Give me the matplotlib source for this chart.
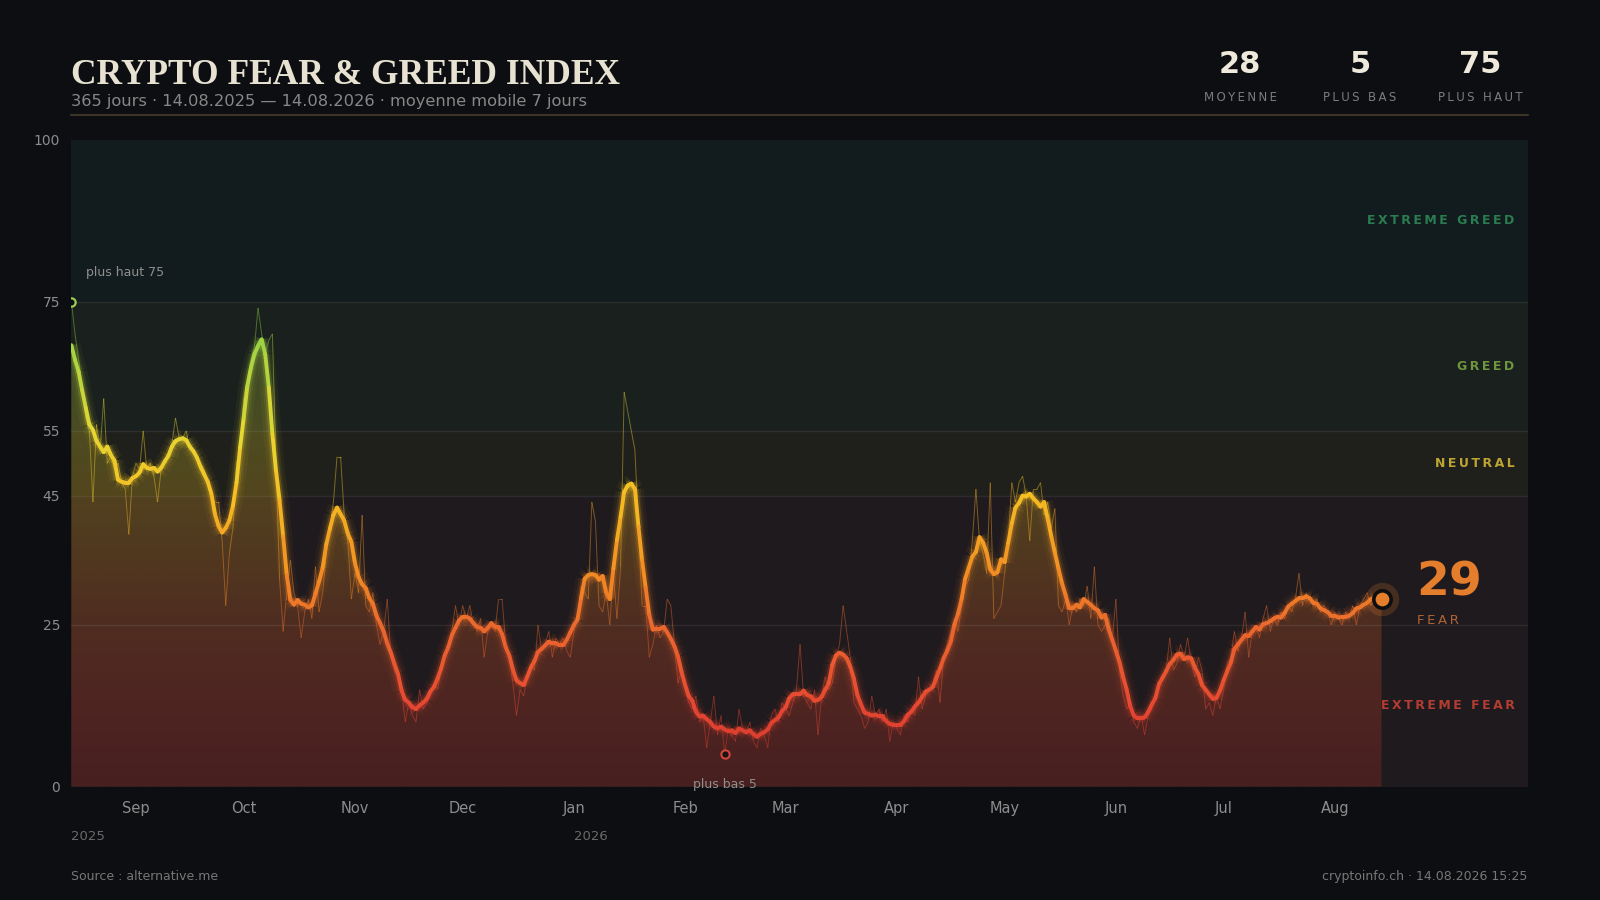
import numpy as np
import pandas as pd
import matplotlib
matplotlib.use("Agg")
import matplotlib.pyplot as plt
import matplotlib.dates as mdates
from matplotlib.collections import LineCollection
from matplotlib.colors import LinearSegmentedColormap, Normalize
from matplotlib.patches import PathPatch

# Daily Fear & Greed values (14.08.2025 -> 14.08.2026)
start_date = "2025-08-14"
fng_daily = [
    75, 70, 66, 62, 57, 55, 44, 56, 52, 60,
    50, 51, 49, 50, 47, 46, 39, 48, 50, 49,
    55, 49, 50, 48, 44, 49, 50, 51, 53, 57,
    54, 54, 55, 52, 52, 51, 50, 49, 47, 45,
    44, 44, 38, 28, 36, 40, 50, 52, 60, 63,
    66, 68, 74, 70, 67, 69, 70, 50, 32, 24,
    30, 35, 30, 28, 23, 27, 29, 26, 34, 27,
    30, 36, 40, 44, 51, 51, 42, 38, 29, 33,
    30, 42, 28, 27, 30, 25, 22, 24, 29, 20,
    18, 17, 15, 10, 13, 11, 10, 15, 12, 13,
    14, 16, 15, 18, 20, 21, 24, 28, 25, 28,
    26, 28, 25, 24, 26, 20, 24, 25, 24, 29,
    29, 22, 20, 16, 11, 15, 14, 17, 19, 18,
    25, 21, 22, 24, 20, 23, 22, 23, 21, 20,
    24, 26, 31, 30, 29, 44, 41, 28, 27, 30,
    25, 33, 26, 34, 61, 58, 55, 52, 40, 28,
    28, 20, 22, 25, 23, 24, 29, 28, 22, 16,
    18, 15, 13, 12, 14, 10, 11, 6, 10, 14,
    8, 11, 5, 9, 8, 7, 12, 9, 8, 10,
    7, 6, 9, 8, 6, 11, 12, 10, 13, 12,
    11, 13, 15, 22, 14, 13, 12, 15, 8, 14,
    17, 15, 16, 20, 22, 28, 24, 20, 13, 12,
    11, 9, 10, 14, 11, 12, 10, 12, 7, 10,
    9, 8, 11, 10, 12, 11, 17, 12, 14, 15,
    16, 18, 13, 20, 22, 24, 26, 24, 28, 31,
    32, 38, 46, 38, 36, 33, 47, 26, 27, 28,
    33, 38, 47, 44, 47, 48, 45, 38, 46, 46,
    47, 42, 44, 40, 43, 28, 27, 29, 25, 28,
    27, 29, 28, 31, 26, 34, 25, 24, 25, 26,
    23, 29, 18, 14, 12, 13, 10, 9, 11, 8,
    11, 12, 14, 16, 17, 18, 23, 18, 19, 22,
    20, 23, 19, 17, 20, 18, 12, 13, 11, 14,
    12, 15, 19, 20, 24, 21, 23, 27, 20, 24,
    25, 23, 26, 28, 24, 26, 25, 27, 26, 28,
    27, 29, 33, 28, 30, 29, 28, 29, 27, 28,
    27, 25, 27, 26, 25, 27, 26, 28, 25, 28,
    29, 30, 28, 29, 30, 29,
]

# zones
zone_names = ["EXTREME FEAR", "FEAR", "NEUTRAL", "GREED", "EXTREME GREED"]
zone_edges = [0, 25, 45, 55, 75, 100]
zone_bg = ["#1f1a1d", "#1e1a1e", "#1f201b", "#1a201d", "#121b1d"]
zone_label_colors = ["#b43c32", "#c0703a", "#bea532", "#6e963c", "#2a7d50"]
y_ticks = [0, 25, 45, 55, 75, 100]

BG = "#0d0e11"
W, H = 1600, 900


def fx(x):
    return x / W


def fy(y):
    return 1 - y / H


def track(s):
    # letter spacing with thin spaces
    return "\u2009".join(s)


dates = pd.date_range(start_date, periods=len(fng_daily), freq="D")
raw = pd.Series(fng_daily, index=dates, dtype=float)
ma7 = raw.rolling(7, center=True, min_periods=1).mean()

cmap = LinearSegmentedColormap.from_list("fng", [
    (0.00, "#c83228"), (0.12, "#e64632"), (0.25, "#eb692d"),
    (0.33, "#f28c23"), (0.45, "#f5be23"), (0.55, "#e6d732"),
    (0.70, "#96d246"), (0.85, "#3cb464"), (1.00, "#2a965a"),
])
norm = Normalize(0, 100)

fig = plt.figure(figsize=(16, 9), dpi=100)
fig.patch.set_facecolor(BG)
ax = fig.add_axes([fx(71.4), fy(786.7), fx(1527.6 - 71.4), (786.7 - 139.8) / H])
ax.set_facecolor(BG)

xn = mdates.date2num(dates)
x_end = xn[-1] + 40.7

# zone bands
for i in range(len(zone_names)):
    ax.axhspan(zone_edges[i], zone_edges[i + 1], color=zone_bg[i], lw=0, zorder=0)

# gradient fill under the moving average
grad = np.linspace(0, 100, 300).reshape(-1, 1)
img = ax.imshow(grad, extent=[xn[0], xn[-1], 0, 100], origin="lower",
                cmap=cmap, norm=norm, alpha=0.24, aspect="auto", zorder=2,
                interpolation="bilinear")
poly = ax.fill_between(xn, ma7.values, 0, facecolor="none", edgecolor="none")
clip = PathPatch(poly.get_paths()[0], transform=ax.transData,
                 facecolor="none", edgecolor="none")
ax.add_patch(clip)
img.set_clip_path(clip)
ax.set_xlim(xn[0], x_end)
ax.set_ylim(0, 100)

for v in zone_edges[1:-1]:
    ax.axhline(v, color="#ffffff", alpha=0.07, lw=1, zorder=2.5)


def segments(y):
    pts = np.column_stack([xn, y]).reshape(-1, 1, 2)
    segs = np.concatenate([pts[:-1], pts[1:]], axis=1)
    return segs, (y[:-1] + y[1:]) / 2


# daily values (thin)
segs_r, mid_r = segments(raw.values)
lc_raw = LineCollection(segs_r, cmap=cmap, norm=norm, linewidths=0.7,
                        alpha=0.45, zorder=3)
lc_raw.set_array(mid_r)
ax.add_collection(lc_raw)

# moving average with glow
segs_m, mid_m = segments(ma7.values)
for lw, a in [(13, 0.05), (8.5, 0.09), (5.5, 0.2)]:
    g = LineCollection(segs_m, cmap=cmap, norm=norm, linewidths=lw, alpha=a,
                       zorder=4, capstyle="butt")
    g.set_array(mid_m)
    ax.add_collection(g)
lc_ma = LineCollection(segs_m, cmap=cmap, norm=norm, linewidths=2.8,
                       zorder=5, capstyle="round", joinstyle="round")
lc_ma.set_array(mid_m)
ax.add_collection(lc_ma)

# extremes
i_max = int(np.argmax(raw.values))
i_min = int(np.argmin(raw.values))
v_max = int(raw.values[i_max])
v_min = int(raw.values[i_min])
v_mean = int(round(raw.mean()))
ax.plot(xn[i_max], v_max, "o", ms=6, mfc=BG, mec="#9ccc50", mew=1.6, zorder=6)
ax.annotate(f"plus haut {v_max}", (xn[i_max], v_max), xytext=(10.5, 18.3),
            textcoords="offset points", ha="left", va="baseline",
            fontsize=9, color="#8f8f8f")
ax.plot(xn[i_min], v_min, "o", ms=6, mfc="#1a1416", mec="#d9483b", mew=1.4, zorder=6)
ax.annotate(f"plus bas {v_min}", (xn[i_min], v_min), xytext=(0, -24.2),
            textcoords="offset points", ha="center", va="baseline",
            fontsize=9, color="#8f8f8f")

# current value
v_now = int(raw.values[-1])
zone_now = next(i for i in range(len(zone_names)) if v_now < zone_edges[i + 1])
now_color = "#e47d2c"
ax.plot(xn[-1], v_now, "o", ms=24, mfc=now_color, mec="none", alpha=0.2, zorder=6)
ax.plot(xn[-1], v_now, "o", ms=12.5, mfc=now_color, mec="#0d0e11", mew=2.6, zorder=7)
fig.text(fx(1416), fy(596), f"{v_now}", fontsize=34, fontweight="bold",
         color=now_color, ha="left", va="baseline")
fig.text(fx(1417), fy(624.5), track(zone_names[zone_now]), fontsize=9.5,
         color="#af6437", ha="left", va="baseline")

# zone labels on the right
for i, name in enumerate(zone_names):
    if i == zone_now:
        continue
    mid = (zone_edges[i] + zone_edges[i + 1]) / 2
    ax.text(0.991, mid, track(name), transform=ax.get_yaxis_transform(),
            ha="right", va="center", fontsize=9, fontweight="bold",
            color=zone_label_colors[i], zorder=8)

# axes styling
for sp in ax.spines.values():
    sp.set_visible(False)
ax.set_yticks(y_ticks)
ax.tick_params(axis="y", length=0, pad=8, labelsize=10, labelcolor="#8c8c8c")
month_ticks = pd.date_range("2025-09-01", "2026-08-01", freq="MS")
ax.set_xticks(mdates.date2num(month_ticks))
ax.xaxis.set_major_formatter(mdates.DateFormatter("%b"))
ax.tick_params(axis="x", length=0, pad=10.5, labelsize=10.5, labelcolor="#8c8c8c")

for d in [dates[0], pd.Timestamp("2026-01-01")]:
    ax.text(mdates.date2num(d), -0.082, str(d.year), transform=ax.get_xaxis_transform(),
            ha="left", va="baseline", fontsize=9.5, color="#6a6a6a")

# header
fig.text(fx(71), fy(84), "CRYPTO FEAR & GREED INDEX", fontsize=25.5, fontweight="bold",
         family=["Liberation Serif", "DejaVu Serif"], color="#e8e2d2",
         ha="left", va="baseline")
fig.text(fx(71), fy(106), "365 jours · 14.08.2025 — 14.08.2026 · moyenne mobile 7 jours",
         fontsize=11.7, color="#878787", ha="left", va="baseline")
fig.add_artist(plt.Line2D([fx(71.4), fx(1527.6)], [fy(115), fy(115)],
                          color="#463e2d", lw=1.2))

stats = [(v_mean, "MOYENNE", 1240), (v_min, "PLUS BAS", 1360), (v_max, "PLUS HAUT", 1480)]
for val, lab, cx in stats:
    fig.text(fx(cx), fy(72.7), str(val), fontsize=22, fontweight="bold",
             color="#efe9dc", ha="center", va="baseline")
    fig.text(fx(cx), fy(101), track(lab), fontsize=8.5, color="#7c7c7c",
             ha="center", va="baseline")

# footer
fig.text(fx(71), fy(880), "Source : alternative.me", fontsize=9, color="#777777",
         ha="left", va="baseline")
fig.text(fx(1527.6), fy(880), "cryptoinfo.ch · 14.08.2026 15:25", fontsize=9,
         color="#777777", ha="right", va="baseline")

fig.savefig("out.png", dpi=100, facecolor=BG)
